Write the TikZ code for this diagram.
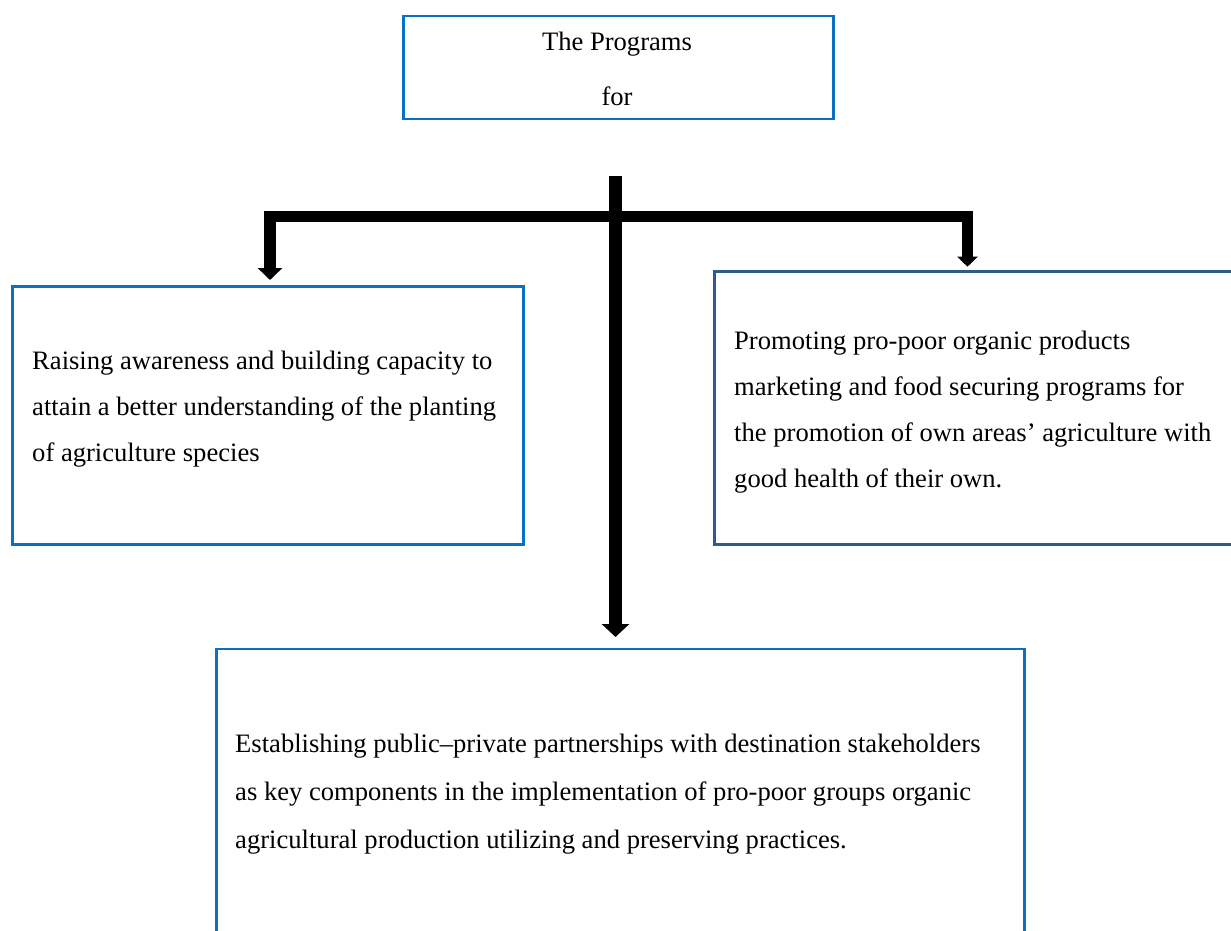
\documentclass[tikz,border=0pt]{standalone}
\usepackage{fontspec}
\setmainfont{Liberation Serif}
\usetikzlibrary{arrows.meta}
\definecolor{boxblue}{HTML}{0A70C2}
\definecolor{darkblue}{HTML}{2E5A8C}
\tikzset{
  box/.style={draw=boxblue, line width=2.5pt, inner sep=0pt, anchor=north west},
  txt/.style={inner sep=0pt, anchor=base west, align=left, font=\fontsize{26.6}{46}\selectfont},
  toptxt/.style={inner sep=0pt, anchor=base, font=\fontsize{26.6}{46}\selectfont},
  conn/.style={draw=black, line width=#1},
}
\begin{document}
\begin{tikzpicture}[x=1pt,y=-1pt]
\clip (0,0) rectangle (1231,931);
\fill[white] (0,0) rectangle (1231,931);
% boxes
\node[box, minimum width=430pt, minimum height=103pt] (top) at (402,15) {};
\node[box, minimum width=511pt, minimum height=258pt] (left) at (11,285) {};
\node[box, draw=darkblue, minimum width=530pt, minimum height=273pt] (right) at (713,270) {};
\node[box, minimum width=808pt, minimum height=320pt] (bot) at (215,647.7) {};
% texts
\node[toptxt] (t1) at (617,51) {The Programs};
\node[toptxt] (t2) at (617,106) {for};
\node[txt] (lt) at (32,461) {Raising awareness and building capacity to\\attain a better understanding of the planting\\of agriculture species};
\node[txt] (rt) at (734,487) {Promoting pro-poor organic products\\marketing and food securing programs for\\the promotion of own areas’ agriculture with\\good health of their own.};
\node[txt, font=\fontsize{26.6}{48}\selectfont] (bt) at (235,848) {Establishing public–private partnerships with destination stakeholders\\as key components in the implementation of pro-poor groups organic\\agricultural production utilizing and preserving practices.};
% connectors
\coordinate (trunk) at (615.5,176);
\coordinate (barL) at (264,216.5);
\coordinate (barR) at (973,216.5);
\coordinate (dropL) at (270,216.5);
\coordinate (dropR) at (967.5,216.5);
\draw[conn=11.6pt] (barL) -- (barR);
\draw[conn=13pt, -{Triangle[width=27pt,length=13pt]}, shorten >=10.7pt] (trunk) -- (trunk |- bot.north);
\draw[conn=12pt, -{Triangle[width=24pt,length=12pt]}, shorten >=5pt] (dropL) -- (dropL |- left.north);
\draw[conn=11pt, -{Triangle[width=20pt,length=10pt]}, shorten >=3.3pt] (dropR) -- (dropR |- right.north);
\end{tikzpicture}
\end{document}
